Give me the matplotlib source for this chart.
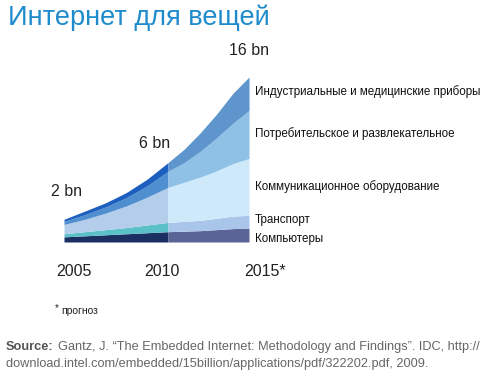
import matplotlib
matplotlib.use('Agg')
import matplotlib.pyplot as plt
import numpy as np

plt.rcParams['font.family'] = ['Liberation Sans', 'DejaVu Sans']

# billions of devices per year
years = [2005, 2006, 2007, 2008, 2009, 2010, 2011, 2012, 2013, 2014, 2015]
computers = [0.5, 0.6, 0.7, 0.8, 0.9, 1.0, 1.05, 1.1, 1.2, 1.3, 1.35]
transport = [0.3, 0.4, 0.5, 0.6, 0.75, 0.9, 0.95, 1.0, 1.1, 1.2, 1.25]
communication = [0.9, 1.2, 1.6, 2.1, 2.7, 3.4, 3.8, 4.2, 4.6, 5.1, 5.5]
consumer = [0.3, 0.45, 0.6, 0.8, 1.1, 1.55, 1.9, 2.5, 3.2, 3.9, 4.65]
industrial = [0.2, 0.35, 0.4, 0.5, 0.65, 0.85, 1.3, 1.8, 2.3, 2.9, 3.25]

layer_names = ['Компьютеры', 'Транспорт', 'Коммуникационное оборудование',
               'Потребительское и развлекательное',
               'Индустриальные и медицинские приборы']
year_labels = ['2005', '2010', '2015*']
total_labels = ['2 bn', '6 bn', '16 bn']

colors_actual = ['#1b2f63', '#5cc0c8', '#b3cdea', '#4f8fd0', '#1d5fbf']
colors_forecast = ['#5b6496', '#a9c6ea', '#cde9fa', '#8fc1e6', '#5e95cc']

# 2005-2010 takes more width than 2010-2015 in the original
def fwd(x):
    x = np.asarray(x, dtype=float)
    return np.where(x <= 2010, (x - 2005) * 104 / 5, 104 + (x - 2010) * 81 / 5)

def inv(p):
    p = np.asarray(p, dtype=float)
    return np.where(p <= 104, 2005 + p * 5 / 104, 2010 + (p - 104) * 5 / 81)

fig = plt.figure(figsize=(4.95, 3.88), dpi=100)
ax = fig.add_axes([64 / 495, (388 - 242) / 388, 185 / 495, 165 / 388])
ax.set_xscale('function', functions=(fwd, inv))

x = np.array(years)
layers = np.array([computers, transport, communication, consumer, industrial])
cum = np.vstack([np.zeros(len(years)), np.cumsum(layers, axis=0)])
past = x <= 2010
future = x >= 2010
for i in range(5):
    ax.fill_between(x[past], cum[i][past], cum[i + 1][past],
                    color=colors_actual[i], lw=0)
    ax.fill_between(x[future], cum[i][future], cum[i + 1][future],
                    color=colors_forecast[i], lw=0)

ax.set_xlim(2005, 2015)
ax.set_ylim(0, 16)
ax.axis('off')

# totals above the stack
total = cum[-1]
for yr, lab, dx, dy in zip([2005, 2010, 2015], total_labels, [0.1, -0.65, 0.0], [2.0, 1.1, 1.8]):
    i = years.index(yr)
    ax.text(yr + dx, total[i] + dy, lab, ha='center', va='bottom',
            fontsize=11.5, color='#222222', clip_on=False)

# layer names at the right
mid = (cum[:-1, -1] + cum[1:, -1]) / 2
offsets = [-0.35, 0.2, 0.0, 0.1, 0.2]
for name, m, off in zip(layer_names, mid, offsets):
    ax.text(1.03, (m + off) / 16, name, transform=ax.transAxes,
            fontsize=8.4, color='#111111', va='center', ha='left', clip_on=False)

fig.text(8 / 495, 1 - 18 / 388, 'Интернет для вещей', fontsize=19.5,
         color='#1e8bcd', va='center', ha='left')

for lab, px in zip(year_labels, [74, 162, 265]):
    fig.text(px / 495, 1 - 272 / 388, lab, fontsize=11.5, color='#222222',
             ha='center', va='center')

fig.text(55 / 495, 1 - 308 / 388, '*', fontsize=7, color='#222222', ha='left', va='center')
fig.text(61 / 495, 1 - 311 / 388, 'прогноз', fontsize=7.5, color='#222222',
         ha='left', va='center')

fig.text(6 / 495, 1 - 347 / 388, 'Source:', fontsize=9.2, color='#555555',
         fontweight='bold', ha='left', va='center')
fig.text(58 / 495, 1 - 347 / 388,
         'Gantz, J. \u201cThe Embedded Internet: Methodology and Findings\u201d. IDC, http://',
         fontsize=9.2, color='#666666', ha='left', va='center')
fig.text(6 / 495, 1 - 364 / 388,
         'download.intel.com/embedded/15billion/applications/pdf/322202.pdf, 2009.',
         fontsize=9.2, color='#666666', ha='left', va='center')

fig.savefig('out.png', dpi=100)
